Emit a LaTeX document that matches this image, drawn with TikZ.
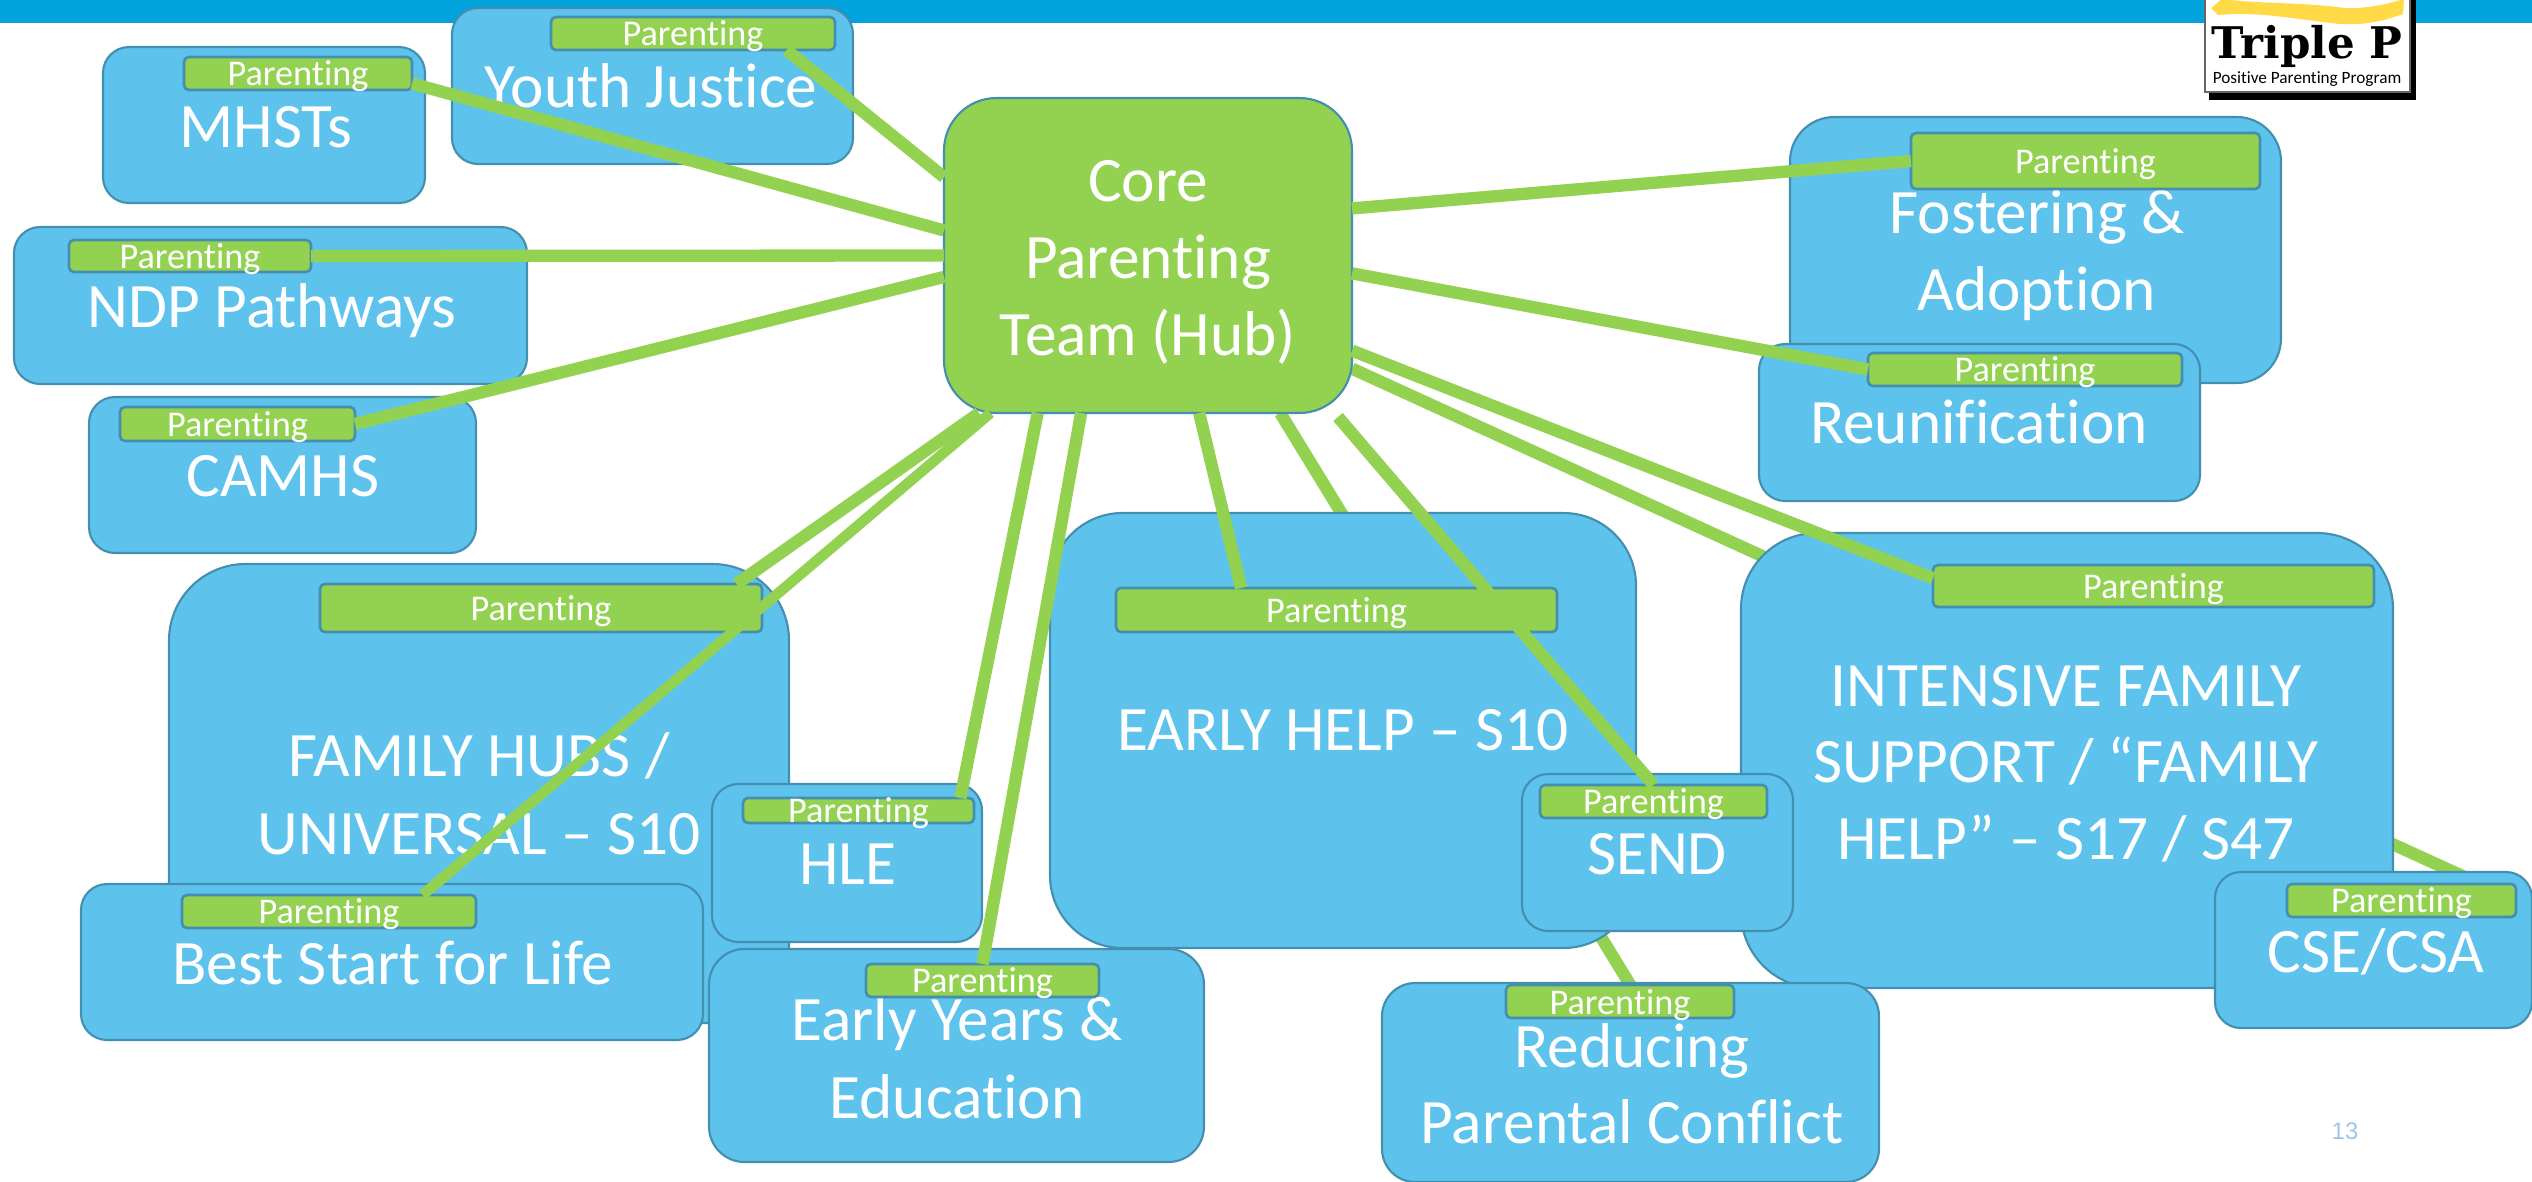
\documentclass[tikz,border=0pt]{standalone}
\usepackage{fontspec}
\setmainfont{Carlito}[Ligatures=NoCommon]
\newfontfamily\logofont{DejaVu Serif}
\newfontfamily\numfont{Liberation Sans}
\usepackage{xcolor}
\usepackage{tikz}
\usetikzlibrary{calc}
\pgfdeclarelayer{under}
\pgfdeclarelayer{tags}
\pgfdeclarelayer{links}
\pgfsetlayers{under,main,tags,links}

\begin{document}
\begin{tikzpicture}[x=0.01cm,y=-0.01cm]
  % Colors
  \definecolor{band}{RGB}{0,163,220}
  \definecolor{sky}{RGB}{93,195,236}
  \definecolor{rim}{RGB}{68,142,176}
  \definecolor{leaf}{RGB}{146,210,80}
  \definecolor{swoosh}{RGB}{255,217,70}
  \definecolor{pagenum}{RGB}{160,196,232}
  % Styles
  \tikzstyle{area box}=[draw=rim,fill=sky,line width=0.6pt,inner sep=0pt,outer sep=0pt]
  \tikzstyle{hub box}=[area box,fill=leaf]
  \tikzstyle{tag bar}=[draw=rim,fill=leaf,line width=0.75pt,rounded corners=1.4pt,inner sep=0pt,outer sep=0pt,
    text=white,font=\fontsize{10.3}{12}\selectfont,text height=7.1pt,text depth=0pt]
  \tikzstyle{area text}=[text=white,font=\fontsize{18}{21.9}\selectfont,align=center,inner sep=0pt,anchor=base]
  \tikzstyle{link line}=[leaf,line width=3.5pt]
  % Local definitions
  \def\areabox#1#2#3#4#5#6{
    \pgfmathsetmacro\boxrad{min(#5-#3,#6-#4)*0.2845/6}
    \node[#1,rounded corners=\boxrad pt,minimum width={(#5-#3)*0.01cm},minimum height={(#6-#4)*0.01cm}]
      (#2) at ({(#3+#5)/2},{(#4+#6)/2}) {};}
  \def\tagbar#1#2#3#4#5{
    \node[tag bar,minimum width={(#4-#2)*0.01cm},minimum height={(#5-#3)*0.01cm}]
      (#1) at ({(#2+#4)/2},{(#3+#5)/2}) {Parenting};}

  \useasboundingbox (0,0) rectangle (2532,1181);

  % The top band and the logo
  \begin{pgfonlayer}{under}
    \fill[band] (0,0) rectangle (2532,23);
    \fill[black] (2209,0) rectangle (2416,100);
    \filldraw[fill=white,draw=black!60,line width=0.3pt] (2205,-2) rectangle (2410,92);
    \fill[swoosh] (2222,-1) .. controls (2260,4) and (2300,2) .. (2345,8) .. controls (2370,9) and (2390,3) .. (2404,-1)
      -- (2403,14) .. controls (2380,22) and (2365,25) .. (2340,24) .. controls (2300,20) and (2260,11) .. (2218,15)
      -- (2211,8) -- cycle;
    \node[inner sep=0pt,anchor=base] (tripleText) at (2307,58)
      {\logofont\bfseries\fontsize{12.4}{13}\selectfont Triple P};
    \node[inner sep=0pt,anchor=base] (programText) at (2307,83)
      {\fontsize{4.9}{6}\selectfont Positive Parenting Program};
    \node[inner sep=0pt,anchor=base,text=pagenum] (pageText) at (2345,1139)
      {\numfont\fontsize{6.8}{8}\selectfont 13};
  \end{pgfonlayer}

  % The big areas
  \areabox{area box}{fostering}{1790}{117}{2281}{383}
  \areabox{area box}{intensive}{1741}{533}{2393}{988}
  \areabox{area box}{earlyhelp}{1050}{513}{1636}{948}
  \areabox{area box}{familyhubs}{169}{564}{789}{1023}
  \areabox{area box}{youth}{452}{8}{853}{164}
  \areabox{area box}{mhsts}{103}{47}{425}{203}
  \areabox{area box}{ndp}{14}{227}{527}{384}
  \areabox{area box}{camhs}{89}{397}{476}{553}
  \node[area text] (fosteringText) at (2037,233) {Fostering \&};
  \node[area text] (adoptionText) at (2037,310) {Adoption};
  \node[area text] (intensiveTextA) at (2066,706) {INTENSIVE FAMILY};
  \node[area text] (intensiveTextB) at (2066,782) {SUPPORT / “FAMILY};
  \node[area text] (intensiveTextC) at (2066,859) {HELP” – S17 / S47};
  \node[area text] (earlyhelpText) at (1343,750) {EARLY HELP – S10};
  \node[area text] (familyhubsTextA) at (479,776) {FAMILY HUBS /};
  \node[area text] (familyhubsTextB) at (479,854) {UNIVERSAL – S10};
  \node[area text] (youthText) at (651,107) {Youth Justice};
  \node[area text] (mhstsText) at (266,147) {MHSTs};
  \node[area text] (ndpText) at (272,327) {NDP Pathways};
  \node[area text] (camhsText) at (283,496) {CAMHS};

  % The boxes lying on top of them
  \areabox{area box}{reunification}{1759}{344}{2200}{501}
  \areabox{area box}{hle}{712}{784}{982}{942}
  \areabox{area box}{beststart}{81}{884}{703}{1040}
  \areabox{area box}{earlyyears}{709}{949}{1204}{1162}
  \areabox{area box}{send}{1522}{774}{1793}{931}
  \areabox{area box}{conflict}{1382}{983}{1879}{1182}
  \areabox{area box}{csecsa}{2215}{872}{2532}{1028}
  \node[area text] (reunificationText) at (1979,443) {Reunification};
  \node[area text] (hleText) at (848,884) {HLE};
  \node[area text] (beststartText) at (393,984) {Best Start for Life};
  \node[area text] (earlyyearsTextA) at (957,1040) {Early Years \&};
  \node[area text] (earlyyearsTextB) at (957,1118) {Education};
  \node[area text] (sendText) at (1657,874) {SEND};
  \node[area text] (conflictTextA) at (1632,1067) {Reducing};
  \node[area text] (conflictTextB) at (1632,1143) {Parental Conflict};
  \node[area text] (csecsaText) at (2376,972) {CSE/CSA};

  % The hub and the Parenting bars
  \begin{pgfonlayer}{tags}
    \areabox{hub box}{hub}{944}{98}{1352}{413}
    \node[area text] (hubTextA) at (1148,201) {Core};
    \node[area text] (hubTextB) at (1148,278) {Parenting};
    \node[area text] (hubTextC) at (1148,355) {Team (Hub)};
    \tagbar{fosteringBar}{1911}{133}{2260}{189}
    \tagbar{intensiveBar}{1933}{565}{2374}{607}
    \tagbar{earlyhelpBar}{1116}{588}{1557}{632}
    \tagbar{familyhubsBar}{320}{584}{762}{632}
    \tagbar{youthBar}{551}{17}{835}{50}
    \tagbar{mhstsBar}{184}{57}{412}{90}
    \tagbar{ndpBar}{69}{240}{311}{272}
    \tagbar{camhsBar}{120}{407}{355}{441}
    \tagbar{reunificationBar}{1868}{353}{2182}{386}
    \tagbar{hleBar}{743}{798}{974}{823}
    \tagbar{beststartBar}{182}{895}{476}{928}
    \tagbar{earlyyearsBar}{866}{964}{1099}{997}
    \tagbar{sendBar}{1540}{785}{1767}{818}
    \tagbar{conflictBar}{1506}{985}{1734}{1018}
    \tagbar{csecsaBar}{2287}{884}{2516}{917}
  \end{pgfonlayer}

  % The two links that run behind the boxes
  \begin{pgfonlayer}{under}
    \draw[style=link line] (hub.310.4) -- (conflictBar.58);
    \draw[style=link line] (hub.331.8) -- (csecsaBar.east);
  \end{pgfonlayer}

  % The other links
  \coordinate (sendStart) at (1338,417);
  \begin{pgfonlayer}{links}
    \draw[style=link line] (hub.159.2) -- (youthBar.350.5);
    \draw[style=link line] (hub.173.4) -- (mhstsBar.355.2);
    \draw[style=link line] (hub.180.7) -- (ndpBar.east);
    \draw[style=link line] (hub.186.8) -- (camhsBar.east);
    \draw[style=link line] (hub.223.5) -- (familyhubsBar.7);
    \draw[style=link line,line width=3pt] (hub.225.8) -- (beststartBar.10);
    \draw[style=link line] (hub.235.1) -- (hleBar.7.8);
    \draw[style=link line] (hub.247.6) -- (earlyyearsBar.north);
    \draw[style=link line] (hub.288.3) -- (earlyhelpBar.167.7);
    \draw[style=link line] (sendStart) -- (sendBar.north);
    \draw[style=link line] (hub.335.8) -- (intensiveBar.178);
    \draw[style=link line] (hub.13.1) -- (fosteringBar.west);
    \draw[style=link line] (hub.355.9) -- (reunificationBar.west);
  \end{pgfonlayer}
\end{tikzpicture}
\end{document}
